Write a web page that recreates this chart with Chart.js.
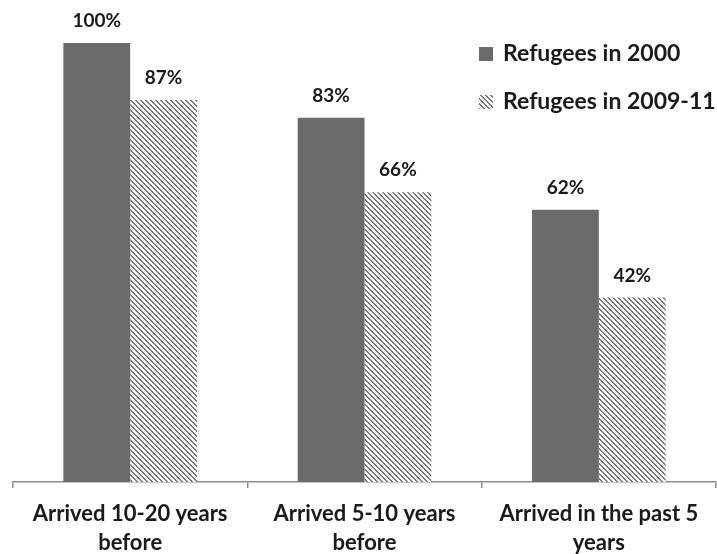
<!DOCTYPE html>
<html>
<head>
<meta charset="utf-8">
<script src="https://cdn.jsdelivr.net/npm/chart.js@4/dist/chart.umd.min.js"></script>
<style>
  html, body { margin: 0; padding: 0; background: #fff; }
  #wrap { width: 717px; height: 554px; }
</style>
</head>
<body>
<div id="wrap"><canvas id="chart"></canvas></div>
<script>
const categories = [
  ['Arrived 10-20 years', 'before'],
  ['Arrived 5-10 years', 'before'],
  ['Arrived in the past 5', 'years']
];
const seriesNames = ['Refugees in 2000', 'Refugees in 2009-11'];
const refugees2000 = [100, 83, 62];
const refugees2009 = [87, 66, 42];

const FONT = 'Lato, "Open Sans", sans-serif';
const DARK = '#6b6b6e';

// diagonal hatch tile for the second series
function hatch() {
  const c = document.createElement('canvas');
  c.width = 5; c.height = 5;
  const g = c.getContext('2d');
  g.fillStyle = '#fff';
  g.fillRect(0, 0, 5, 5);
  g.fillStyle = '#7a7a7a';
  for (let i = 0; i < 5; i++) {
    g.fillRect(i, i, 1, 1);
    g.fillRect((i + 1) % 5, i, 1, 1);
  }
  return g.createPattern(c, 'repeat');
}
const HATCH = hatch();

const valueLabels = {
  id: 'valueLabels',
  afterDatasetsDraw(chart) {
    const ctx = chart.ctx;
    ctx.save();
    ctx.font = 'bold 19px ' + FONT;
    ctx.fillStyle = '#1a1a1a';
    ctx.textAlign = 'center';
    ctx.textBaseline = 'middle';
    chart.data.datasets.forEach((ds, i) => {
      chart.getDatasetMeta(i).data.forEach((bar, j) => {
        ctx.fillText(ds.data[j] + '%', bar.x, bar.y - 22);
      });
    });
    ctx.restore();
  }
};

const sideLegend = {
  id: 'sideLegend',
  afterDraw(chart) {
    const ctx = chart.ctx;
    ctx.save();
    ctx.font = 'bold 23px ' + FONT;
    ctx.textBaseline = 'middle';
    chart.data.datasets.forEach((ds, i) => {
      const y = 54 + i * 48;
      ctx.fillStyle = ds.backgroundColor;
      ctx.fillRect(479, y - 7, 14, 14);
      ctx.fillStyle = '#1a1a1a';
      ctx.fillText(ds.label, 503, y);
    });
    ctx.restore();
  }
};

new Chart(document.getElementById('chart'), {
  type: 'bar',
  data: {
    labels: categories,
    datasets: [
      { label: seriesNames[0], data: refugees2000, backgroundColor: DARK },
      { label: seriesNames[1], data: refugees2009, backgroundColor: HATCH }
    ]
  },
  options: {
    responsive: true,
    maintainAspectRatio: false,
    animation: false,
    layout: { padding: { top: 43, left: 13, right: 1, bottom: 0 } },
    datasets: { bar: { barPercentage: 1, categoryPercentage: 0.57 } },
    plugins: { legend: { display: false }, tooltip: { enabled: false } },
    scales: {
      y: { display: false, min: 0, max: 100 },
      x: {
        afterFit(scale) { scale.height = 72; },
        border: { display: true, color: '#8c8c8c', width: 1.5 },
        grid: { offset: true, drawOnChartArea: false, drawTicks: true, tickLength: 6, color: '#8c8c8c', lineWidth: 1.5 },
        ticks: {
          color: '#1a1a1a',
          padding: 11,
          maxRotation: 0,
          font: { family: FONT, size: 22, weight: 'bold', lineHeight: 1.32 }
        }
      }
    }
  },
  plugins: [valueLabels, sideLegend]
});
</script>
</body>
</html>
